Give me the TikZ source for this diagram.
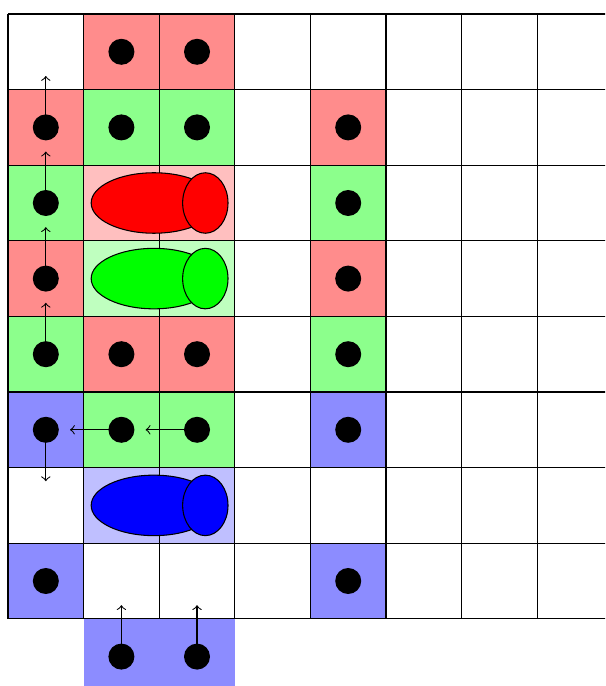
\documentclass[tikz,border=0pt]{standalone}
\begin{document}
\begin{tikzpicture}[x=1cm,y=1cm,
  dot/.style={circle,fill=black,inner sep=0pt,minimum size=0.344cm},
  rcell/.style={fill=red!45}, gcell/.style={fill=green!45}, bcell/.style={fill=blue!45},
  rpale/.style={fill=red!25}, gpale/.style={fill=green!25}, bpale/.style={fill=blue!25},
  big/.style={draw=black,ellipse/.style={}},
  arr/.style={->}]
\useasboundingbox (-0.106,-8.889) rectangle (7.897,0.185);
\clip (-0.106,-8.889) rectangle (7.897,0.185);
% cell fills
\fill[rcell] (1,0) rectangle (3,-1);
\fill[rcell] (0,-1) rectangle (1,-2);
\fill[gcell] (1,-1) rectangle (3,-2);
\fill[rcell] (4,-1) rectangle (5,-2);
\fill[gcell] (0,-2) rectangle (1,-3);
\fill[rpale] (1,-2) rectangle (3,-3);
\fill[gcell] (4,-2) rectangle (5,-3);
\fill[rcell] (0,-3) rectangle (1,-4);
\fill[gpale] (1,-3) rectangle (3,-4);
\fill[rcell] (4,-3) rectangle (5,-4);
\fill[gcell] (0,-4) rectangle (1,-5);
\fill[rcell] (1,-4) rectangle (3,-5);
\fill[gcell] (4,-4) rectangle (5,-5);
\fill[bcell] (0,-5) rectangle (1,-6);
\fill[gcell] (1,-5) rectangle (3,-6);
\fill[bcell] (4,-5) rectangle (5,-6);
\fill[bpale] (1,-6) rectangle (3,-7);
\fill[bcell] (0,-7) rectangle (1,-8);
\fill[bcell] (4,-7) rectangle (5,-8);
\fill[bcell] (1,-8) rectangle (3,-9);
% grid
\draw (0,-8) grid (9,0);
% ellipses
\draw[fill=red] (1.93,-2.5) ellipse [x radius=0.83, y radius=0.40];
\draw[fill=red] (2.61,-2.5) ellipse [x radius=0.30, y radius=0.40];
\draw[fill=green] (1.93,-3.5) ellipse [x radius=0.83, y radius=0.40];
\draw[fill=green] (2.61,-3.5) ellipse [x radius=0.30, y radius=0.40];
\draw[fill=blue] (1.93,-6.5) ellipse [x radius=0.83, y radius=0.40];
\draw[fill=blue] (2.61,-6.5) ellipse [x radius=0.30, y radius=0.40];
% dots
\foreach \c/\r in {1/0,2/0,0/1,1/1,2/1,4/1,0/2,4/2,0/3,4/3,0/4,1/4,2/4,4/4,0/5,1/5,2/5,4/5,0/7,4/7,1/8,2/8}
  \node[dot] (d\c\r) at (\c+0.5,-\r-0.5) {};
% arrow ends
\coordinate (t01) at (0.5,-0.82);
\coordinate (t02) at (0.5,-1.82);
\coordinate (t03) at (0.5,-2.82);
\coordinate (t04) at (0.5,-3.82);
\coordinate (t05) at (0.5,-6.18);
\coordinate (t15) at (0.82,-5.5);
\coordinate (t25) at (1.82,-5.5);
\coordinate (t18) at (1.5,-7.82);
\coordinate (t28) at (2.5,-7.82);
% arrows
\foreach \n in {01,02,03,04,05,15,25,18,28}
  \draw[arr] (d\n.center) -- (t\n);
\end{tikzpicture}
\end{document}
